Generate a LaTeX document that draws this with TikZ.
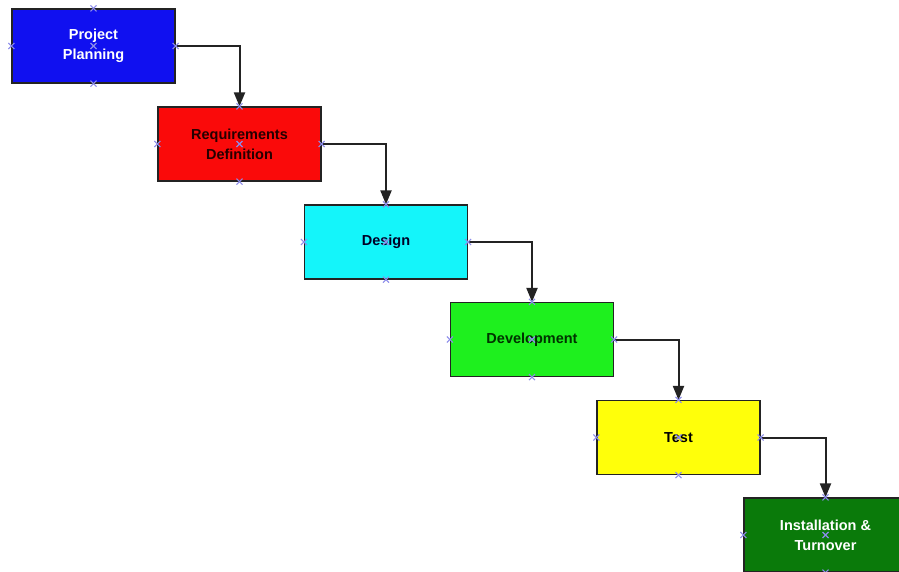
\documentclass[tikz,border=0pt]{standalone}
\usepackage{fontspec}
\setmainfont{Liberation Sans}
\usetikzlibrary{arrows.meta}
\definecolor{cblue}{RGB}{16,16,240}
\definecolor{cred}{RGB}{250,10,10}
\definecolor{ccyan}{RGB}{20,245,250}
\definecolor{cgreen}{RGB}{30,240,30}
\definecolor{cyellow}{RGB}{255,255,10}
\definecolor{cdkgreen}{RGB}{10,122,10}
\definecolor{cmark}{RGB}{140,140,235}
\definecolor{cline}{RGB}{35,35,35}
\begin{document}
\begin{tikzpicture}[x=1pt,y=-1pt,
  phase/.style={draw=cline, line width=1.2pt, minimum width=163pt, minimum height=74pt,
    inner sep=0pt, align=center, font=\fontsize{14.5}{20}\selectfont\bfseries},
  conn/.style={draw=cline, line width=2pt, -{Triangle[length=14pt,width=11pt]}},
  xm/.style={draw=cmark, line width=1.1pt}]
\useasboundingbox (0,0) rectangle (899,571);
\fill[white] (0,0) rectangle (899,571);
\begin{scope}
\clip (0,0) rectangle (899,571);
\node[phase, fill=cblue, text=white] (pp) at (93.5,46) {Project\\Planning};
\node[phase, fill=cred, text=black!85!red] (rd) at (239.5,144) {Requirements\\Definition};
\node[phase, fill=ccyan, text=black!85!blue] (ds) at (386,242) {Design};
\node[phase, fill=cgreen, text=black!80!green] (dv) at (532,339.5) {Development};
\node[phase, fill=cyellow, text=black] (ts) at (678.5,437.5) {Test};
\node[phase, fill=cdkgreen, text=white] (it) at (825.5,535) {Installation \&\\Turnover};
\draw[conn] (pp.east) -| (rd.north);
\draw[conn] (rd.east) -| (ds.north);
\draw[conn] (ds.east) -| (dv.north);
\draw[conn] (dv.east) -| (ts.north);
\draw[conn] (ts.east) -| (it.north);
\foreach \n in {pp,rd,ds,dv,ts,it}
  \foreach \a in {north,south,east,west,center}
    \draw[xm] (\n.\a) +(-3,-3) -- +(3,3) +(-3,3) -- +(3,-3);
\end{scope}
\end{tikzpicture}
\end{document}
